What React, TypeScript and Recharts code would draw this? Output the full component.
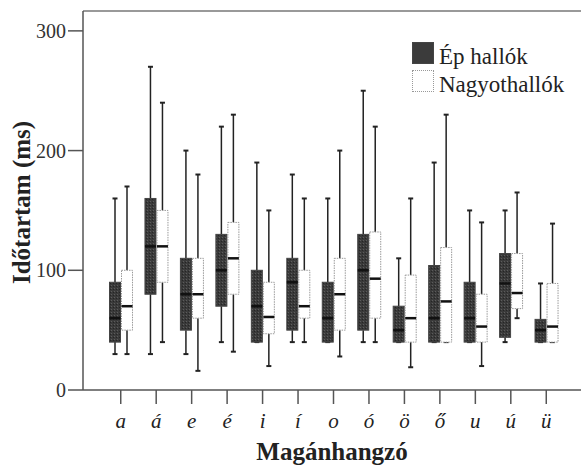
import React from 'react';
import { ComposedChart, Bar, XAxis, YAxis, ReferenceLine } from 'recharts';

const vowels = ['a', 'á', 'e', 'é', 'i', 'í', 'o', 'ó', 'ö', 'ő', 'u', 'ú', 'ü'];

// Ép hallók (normal hearing)
const epMin = [30, 30, 30, 40, 40, 40, 40, 40, 40, 40, 40, 40, 40];
const epQ1 = [40, 80, 50, 70, 40, 50, 40, 50, 40, 40, 40, 44, 40];
const epMed = [60, 120, 80, 100, 70, 90, 60, 100, 50, 60, 60, 89, 50];
const epQ3 = [90, 160, 110, 130, 100, 110, 90, 130, 70, 104, 90, 114, 59];
const epMax = [160, 270, 200, 220, 190, 180, 160, 250, 110, 190, 150, 150, 89];

// Nagyothallók (hard of hearing)
const nyMin = [30, 40, 16, 32, 20, 40, 28, 40, 19, 40, 20, 60, 40];
const nyQ1 = [50, 90, 60, 80, 47, 60, 50, 60, 40, 40, 40, 68, 40];
const nyMed = [70, 120, 80, 110, 61, 70, 80, 93, 60, 74, 53, 81, 53];
const nyQ3 = [100, 150, 110, 140, 90, 100, 110, 132, 96, 119, 80, 114, 89];
const nyMax = [170, 240, 180, 230, 150, 160, 200, 220, 160, 230, 140, 165, 139];

const yTicks = [0, 100, 200, 300];
const yMax = 316.6;

const serif = '"Liberation Serif", "DejaVu Serif", serif';

const data = vowels.map((v, i) => ({
  cat: v,
  ep: [epMin[i], epMax[i]],
  ny: [nyMin[i], nyMax[i]],
  epStats: [epMin[i], epQ1[i], epMed[i], epQ3[i], epMax[i]],
  nyStats: [nyMin[i], nyQ1[i], nyMed[i], nyQ3[i], nyMax[i]],
}));

// bar spans min..max, so the quartiles are placed along its pixel height
const BoxShape = (props: any) => {
  const { x, y, width, height, stats, dark } = props;
  if (x == null || y == null) return null;
  const [lo, q1, med, q3, hi] = stats;
  const py = (v: number) => y + (height * (hi - v)) / (hi - lo);
  const cx = x + width / 2;
  const top = py(q3);
  const bot = py(q1);
  return (
    <g>
      <line x1={cx} x2={cx} y1={py(hi)} y2={top} stroke="#222" strokeWidth={1.5} />
      <line x1={cx} x2={cx} y1={bot} y2={py(lo)} stroke="#222" strokeWidth={1.5} />
      <line x1={cx - 2.5} x2={cx + 2.5} y1={py(hi)} y2={py(hi)} stroke="#222" strokeWidth={2} />
      <line x1={cx - 2.5} x2={cx + 2.5} y1={py(lo)} y2={py(lo)} stroke="#222" strokeWidth={2} />
      <rect
        x={x + 0.5}
        y={top}
        width={width - 1}
        height={bot - top}
        fill={dark ? 'url(#stipple)' : '#fff'}
        stroke={dark ? '#444' : '#999'}
        strokeWidth={1}
        strokeDasharray={dark ? undefined : '1.5 1'}
      />
      <line x1={x + 0.5} x2={x + width - 0.5} y1={py(med)} y2={py(med)} stroke="#111" strokeWidth={2.5} />
    </g>
  );
};

const LegendRow = ({ top, dark, text }: { top: number; dark: boolean; text: string }) => (
  <>
    <div
      style={{
        position: 'absolute',
        left: 412,
        top,
        width: 22,
        height: 22,
        boxSizing: 'border-box',
        background: dark ? '#3b3b3b' : '#fff',
        border: dark ? '1px solid #444' : '1px dotted #999',
      }}
    />
    <div
      style={{
        position: 'absolute',
        left: 439,
        top: top + 3,
        fontFamily: serif,
        fontSize: 23,
        lineHeight: '23px',
        color: '#222',
        whiteSpace: 'nowrap',
      }}
    >
      {text}
    </div>
  </>
);

export default function App() {
  return (
    <div style={{ position: 'absolute', left: 0, top: 0, width: 581, height: 466, background: '#fff' }}>
      <ComposedChart
        width={581}
        height={466}
        data={data}
        margin={{ top: 11, right: 0, bottom: 0, left: 0 }}
        barGap={0}
        barSize={12}
      >
        <defs>
          <pattern id="stipple" width="3" height="3" patternUnits="userSpaceOnUse">
            <rect width="3" height="3" fill="#3a3a3a" />
            <rect x="0" y="0" width="1" height="1" fill="#5c5c5c" />
            <rect x="2" y="1" width="1" height="1" fill="#252525" />
          </pattern>
        </defs>
        <XAxis
          dataKey="cat"
          height={76}
          interval={0}
          padding={{ left: 20, right: 17 }}
          tickSize={14}
          tickMargin={9}
          axisLine={{ stroke: '#555', strokeWidth: 1.5 }}
          tickLine={{ stroke: '#555', strokeWidth: 1.5 }}
          tick={{ fontSize: 21, fontStyle: 'italic', fill: '#222', fontFamily: serif }}
          label={{
            value: 'Magánhangzó',
            position: 'insideBottom',
            offset: 6,
            fontSize: 25,
            fontWeight: 'bold',
            fill: '#222',
            fontFamily: serif,
          }}
        />
        <YAxis
          width={83}
          type="number"
          domain={[0, yMax]}
          ticks={yTicks}
          tickSize={15}
          tickMargin={2}
          axisLine={{ stroke: '#555', strokeWidth: 1.5 }}
          tickLine={{ stroke: '#555', strokeWidth: 1.5 }}
          tick={{ fontSize: 20, fill: '#333', fontFamily: serif }}
          label={{
            value: 'Időtartam (ms)',
            angle: -90,
            position: 'center',
            dx: -20.5,
            dy: 2,
            fontSize: 25,
            fontWeight: 'bold',
            fill: '#222',
            fontFamily: serif,
          }}
        />
        <ReferenceLine y={yMax} stroke="#777" strokeWidth={1.5} />
        <Bar
          dataKey="ep"
          isAnimationActive={false}
          shape={(p: any) => <BoxShape {...p} stats={p.payload.epStats} dark />}
        />
        <Bar
          dataKey="ny"
          isAnimationActive={false}
          shape={(p: any) => <BoxShape {...p} stats={p.payload.nyStats} dark={false} />}
        />
      </ComposedChart>
      <LegendRow top={42} dark text="Ép hallók" />
      <LegendRow top={70} dark={false} text="Nagyothallók" />
    </div>
  );
}
